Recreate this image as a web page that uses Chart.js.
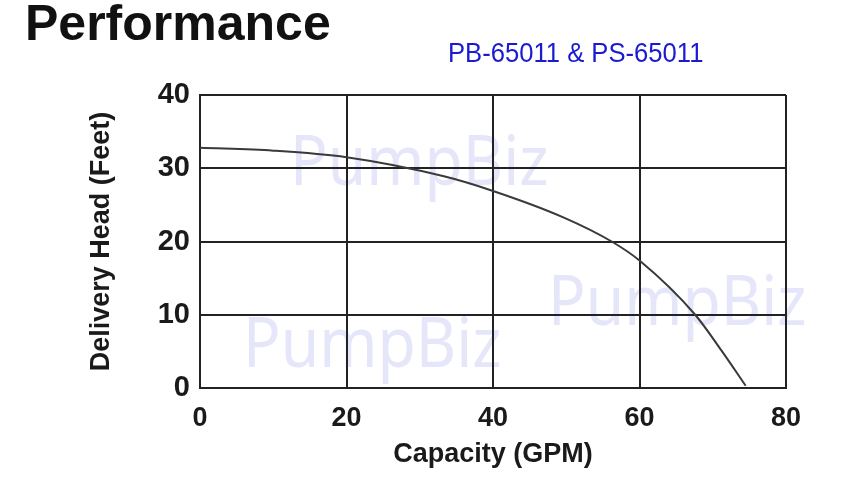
<!DOCTYPE html>
<html>
<head>
<meta charset="utf-8">
<script src="https://cdn.jsdelivr.net/npm/chart.js@4/dist/chart.umd.min.js"></script>
<style>
    body { margin: 0; background: #fff; }
    #wrap { position: relative; width: 860px; height: 500px; }
    #perfTitle {
        position: absolute; left: 25px; top: -2px;
        font: bold 50px 'Liberation Sans', Arial, sans-serif; line-height: 50px;
        color: #111;
    }
    #modelTitle {
        position: absolute; left: 448px; top: 39px;
        font: 28px 'Liberation Sans', Arial, sans-serif; line-height: 28px;
        color: #1a1ad0; transform: scaleX(0.915); transform-origin: left top;
        white-space: nowrap;
    }
    canvas { position: absolute; left: 0; top: 0; }
</style>
</head>
<body>
<div id="wrap">
    <canvas id="perfChart" width="860" height="500"></canvas>
    <div id="perfTitle">Performance</div>
    <div id="modelTitle">PB-65011 &amp; PS-65011</div>
</div>
<script>
// curve (GPM vs feet)
const capacity = [0, 10, 20, 33.3, 40, 49.6, 56.2, 60, 67.6, 71.2, 74.5];
const head = [32.8, 32.4, 31.5, 28.9, 26.9, 23.3, 20, 17.4, 10, 5.1, 0.3];

const xTicks = [0, 20, 40, 60, 80];
const yTicks = [0, 10, 20, 30, 40];

const watermarkText = 'PumpBiz';

document.addEventListener('DOMContentLoaded', function () {
    const ctx = document.getElementById('perfChart').getContext('2d');

    const labelFont = "'Liberation Sans', Arial, sans-serif";

    // faint watermark text behind the grid
    const watermarkPlugin = {
        id: 'watermark',
        beforeDraw(chart) {
            const c = chart.ctx;
            const spots = [[290, 185], [243, 367], [548, 325]];
            c.save();
            c.fillStyle = 'rgb(230, 230, 250)';
            c.font = "70px 'Noto Sans', sans-serif";
            c.textBaseline = 'alphabetic';
            spots.forEach(function (s) {
                c.save();
                c.translate(s[0], s[1]);
                c.scale(0.89, 1);
                c.fillText(watermarkText, 0, 0);
                c.restore();
            });
            c.restore();
        }
    };

    const points = capacity.map((x, i) => ({ x: x, y: head[i] }));

    new Chart(ctx, {
        type: 'line',
        data: {
            datasets: [{
                data: points,
                borderColor: '#3a3a3a',
                borderWidth: 2,
                pointRadius: 0,
                fill: false,
                cubicInterpolationMode: 'monotone'
            }]
        },
        options: {
            responsive: false,
            animation: false,
            layout: { padding: { top: 95, right: 74, left: 0, bottom: 0 } },
            plugins: {
                legend: { display: false },
                tooltip: { enabled: false }
            },
            scales: {
                x: {
                    type: 'linear',
                    min: 0,
                    max: 80,
                    afterBuildTicks: axis => { axis.ticks = xTicks.map(v => ({ value: v })); },
                    afterFit: axis => { axis.height = 112; },
                    grid: { color: '#222', lineWidth: 2, drawTicks: false },
                    border: { color: '#222', width: 2 },
                    ticks: {
                        color: '#1a1a1a',
                        padding: 14,
                        font: { family: labelFont, size: 27, weight: 'bold' }
                    },
                    title: {
                        display: true,
                        text: 'Capacity (GPM)',
                        color: '#1a1a1a',
                        padding: { top: 0, bottom: 29 },
                        font: { family: labelFont, size: 27, weight: 'bold' }
                    }
                },
                y: {
                    min: 0,
                    max: 40,
                    afterBuildTicks: axis => { axis.ticks = yTicks.map(v => ({ value: v })); },
                    afterFit: axis => { axis.width = 200; },
                    grid: { color: '#222', lineWidth: 2, drawTicks: false },
                    border: { color: '#222', width: 2 },
                    ticks: {
                        color: '#1a1a1a',
                        padding: 10,
                        font: { family: labelFont, size: 29, weight: 'bold' }
                    },
                    title: {
                        display: true,
                        text: 'Delivery Head (Feet)',
                        color: '#1a1a1a',
                        padding: { top: 85, bottom: 0 },
                        font: { family: labelFont, size: 27, weight: 'bold' }
                    }
                }
            }
        },
        plugins: [watermarkPlugin]
    });
});
</script>
</body>
</html>
